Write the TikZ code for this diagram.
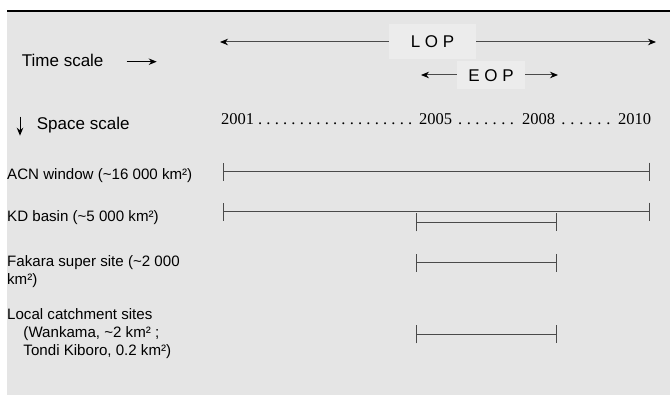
\documentclass[tikz,border=0pt]{standalone}
\usepackage{fontspec}
\setmainfont{Liberation Sans}
\newfontfamily\yearfont{Liberation Serif}
\usetikzlibrary{arrows.meta}
\definecolor{bggray}{HTML}{E5E5E5}
\definecolor{boxgray}{HTML}{ECECEC}
\definecolor{linegray}{HTML}{4A4A4A}
\begin{document}
\begin{tikzpicture}[x=1pt,y=-1pt,
  lbl/.style={anchor=base west, inner sep=0pt, align=left, font=\fontsize{15.1}{17.9}\selectfont},
  scalelbl/.style={anchor=base west, inner sep=0pt, font=\fontsize{17}{20}\selectfont},
  periodbox/.style={fill=boxgray, inner sep=0pt, font=\fontsize{17}{20}\selectfont},
  yr/.style={anchor=base west, inner sep=0pt, font=\yearfont\fontsize{16.5}{19}\selectfont},
  dotrow/.style={anchor=base west, inner sep=0pt, font=\yearfont\fontsize{16.5}{19}\selectfont},
  spanline/.style={draw=linegray, line width=1pt, {Bar[width=18pt]}-{Bar[width=18pt]}},
  periodarrow/.style={draw=linegray, line width=1pt, {Stealth[length=8pt,width=6.5pt,black]}-{Stealth[length=8pt,width=6.5pt,black]}},
  scalearrow/.style={draw=black, line width=1pt, -{Stealth[length=8pt,width=6.5pt]}},
]
\useasboundingbox (0,0) rectangle (670,395);
\fill[white] (0,0) rectangle (670,395);
\fill[bggray] (7,12) rectangle (670,395);
\fill[black] (7,10) rectangle (670,12.5);

% period arrows
\coordinate (lopL) at (220,42);
\coordinate (lopR) at (656,42);
\draw[periodarrow] (lopL) -- (lopR);
\node[periodbox, minimum width=87pt, minimum height=35pt] (lop) at (432.5,42) {L O P};
\coordinate (eopL) at (421,75);
\coordinate (eopR) at (558,75);
\draw[periodarrow] (eopL) -- (eopR);
\node[periodbox, minimum width=68pt, minimum height=28pt] (eop) at (491,75.5) {E O P};

% scale labels
\node[scalelbl] (time) at (21.7,66.7) {Time scale};
\coordinate (timeA) at (126.7,61.7);
\coordinate (timeB) at (156.7,61.7);
\draw[scalearrow] (timeA) -- (timeB);
\node[scalelbl] (space) at (36.7,130) {Space scale};
\coordinate (spaceA) at (20,116.7);
\coordinate (spaceB) at (20,135.7);
\draw[scalearrow] (spaceA) -- (spaceB);

% years
\node[yr] (y2001) at (221,125) {2001};
\node[dotrow] (d1) at (255.8,125) {\hbox to 158.4pt{\cleaders\hbox to 8.33pt{\hss.\hss}\hfill}};
\node[yr] (y2005) at (419,125) {2005};
\node[dotrow] (d2) at (455.7,125) {\hbox to 60.4pt{\cleaders\hbox to 8.62pt{\hss.\hss}\hfill}};
\node[yr] (y2008) at (522,125) {2008};
\node[dotrow] (d3) at (558.8,125) {\hbox to 54.1pt{\cleaders\hbox to 9pt{\hss.\hss}\hfill}};
\node[yr] (y2010) at (618,125) {2010};

% space labels (base anchor = baseline of last line)
\node[lbl] (acn) at (7,179.5) {ACN window (\textasciitilde 16 000 km²)};
\node[lbl] (kd) at (7,222) {KD basin (\textasciitilde 5 000 km²)};
\node[lbl] (fak) at (7,284.6) {Fakara super site (\textasciitilde 2 000\\km²)};
\node[lbl] (loc) at (7,355.8) {Local catchment sites\\\hspace*{16.3pt}(Wankama, \textasciitilde 2 km² ;\\\hspace*{16.3pt}Tondi Kiboro, 0.2 km²)};

% spans
\coordinate (acnA) at (222.7,171.7);
\coordinate (acnB) at (649.7,171.7);
\draw[spanline] (acnA) -- (acnB);
\coordinate (kdA) at (222.7,211.7);
\coordinate (kdB) at (649.7,211.7);
\draw[spanline] (kdA) -- (kdB);
\coordinate (kdsA) at (415.7,222.3);
\coordinate (kdsB) at (556.7,222.3);
\draw[spanline] (kdsA) -- (kdsB);
\coordinate (fakA) at (415.7,263);
\coordinate (fakB) at (556.7,263);
\draw[spanline] (fakA) -- (fakB);
\coordinate (locA) at (415.7,334.5);
\coordinate (locB) at (556.7,334.5);
\draw[spanline] (locA) -- (locB);
\end{tikzpicture}
\end{document}
